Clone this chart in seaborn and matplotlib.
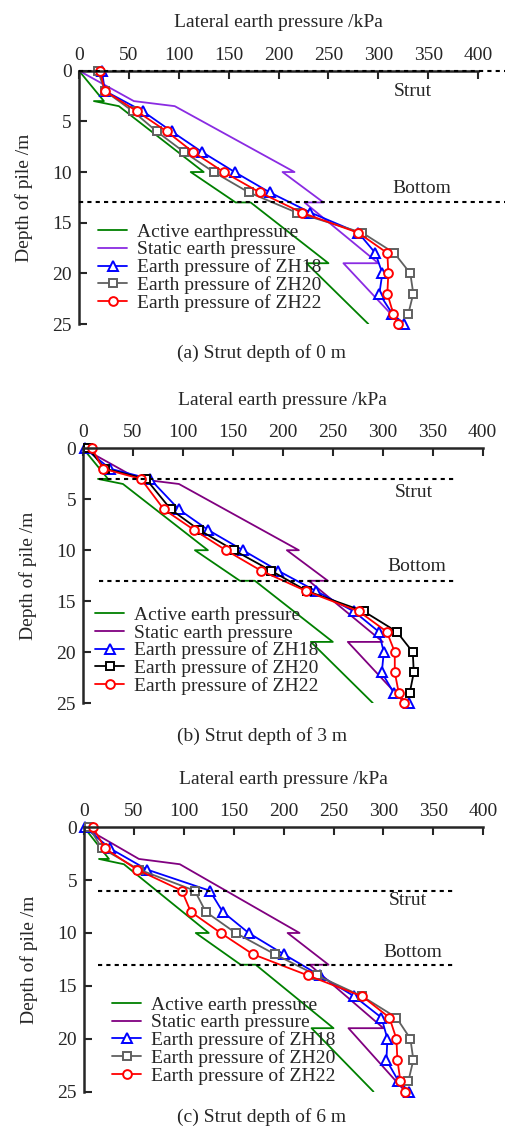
import matplotlib
matplotlib.use("Agg")
import matplotlib.pyplot as plt
import seaborn as sns

sns.set_style("ticks")
plt.rcParams['font.family'] = ['Liberation Serif', 'DejaVu Serif']

# theoretical curves (same for every case)
active_depth = [0, 3, 3, 3.5, 10, 10, 13, 13, 19, 19, 25]
active_p = [0, 25, 15, 40, 125, 112, 157, 172, 250, 228, 290]
static_depth = [0, 3, 3.5, 10, 10, 13, 13, 19, 19, 25]
static_p = [0, 55, 96, 216, 204, 245, 226, 300, 265, 322]

# measured, strut at 0 m
depth_a = [0, 2, 4, 6, 8, 10, 12, 14, 16, 18, 20, 22, 24, 25]
zh18_a = [23, 26, 64, 93, 123, 156, 191, 232, 280, 297, 304, 301, 314, 326]
zh20_a = [19, 26, 54, 78, 105, 135, 170, 218, 284, 316, 332, 335, 330]
zh22_a = [21, 26, 58, 88, 114, 145, 181, 223, 280, 309, 310, 309, 315, 320]

# measured, strut at 3 m
depth_b = [0, 2, 3, 6, 8, 10, 12, 14, 16, 18, 20, 22, 24, 25]
zh18_b = [2, 27, 67, 96, 125, 160, 195, 233, 271, 296, 301, 299, 311, 326]
zh20_b = [5, 22, 63, 88, 116, 151, 188, 224, 281, 314, 330, 331, 327]
zh22_b = [9, 20, 58, 81, 111, 143, 178, 223, 276, 304, 312, 312, 316, 321]

# measured, strut at 6 m
depth_c = [0, 2, 4, 6, 8, 10, 12, 14, 16, 18, 20, 22, 24, 25]
zh18_c = [1, 26, 63, 126, 139, 165, 200, 236, 271, 298, 304, 303, 315, 326]
zh20_c = [5, 18, 55, 111, 122, 152, 191, 233, 279, 313, 327, 330, 325]
zh22_c = [9, 21, 53, 98, 107, 137, 169, 224, 279, 306, 313, 314, 317, 322]

panels = [
    dict(rect=[0.156, 0.7135, 0.789, 0.224], depth=depth_a,
         zh18=zh18_a, zh20=zh20_a, zh22=zh22_a, strut=0,
         static_c='#8A2BE2', zh20_c='#606060', active_lab='Active earthpressure',
         dash_x=(0, 427), strut_xy=(315, 2.1), bottom_xy=(314, 11.6),
         leg=(0.048, 0.047), cap='(a) Strut depth of 0 m', cap_y=353),
    dict(rect=[0.164, 0.3784, 0.790, 0.2252], depth=depth_b,
         zh18=zh18_b, zh20=zh20_b, zh22=zh22_b, strut=3,
         static_c='#800080', zh20_c='black', active_lab='Active earth pressure',
         dash_x=(16, 372), strut_xy=(312, 4.3), bottom_xy=(305, 11.6),
         leg=(0.03, 0.031), cap='(b) Strut depth of 3 m', cap_y=736),
    dict(rect=[0.166, 0.0348, 0.789, 0.2338], depth=depth_c,
         zh18=zh18_c, zh20=zh20_c, zh22=zh22_c, strut=6,
         static_c='#800080', zh20_c='#606060', active_lab='Active earth pressure',
         dash_x=(14, 372), strut_xy=(305, 6.95), bottom_xy=(300, 11.8),
         leg=(0.07, 0.025), cap='(c) Strut depth of 6 m', cap_y=1117),
]

fig = plt.figure(figsize=(5.06, 11.31), dpi=100)
fs = 14

for p in panels:
    ax = fig.add_axes(p['rect'])
    sns.lineplot(x=active_p, y=active_depth, sort=False, estimator=None,
                 color='green', lw=1.3, label=p['active_lab'], ax=ax)
    sns.lineplot(x=static_p, y=static_depth, sort=False, estimator=None,
                 color=p['static_c'], lw=1.3, label='Static earth pressure', ax=ax)
    mk = dict(markerfacecolor='white', markeredgewidth=1.4, lw=1.3, clip_on=False)
    sns.lineplot(x=p['zh18'], y=p['depth'], sort=False, estimator=None, color='blue',
                 marker='^', markersize=6.5, markeredgecolor='blue',
                 label='Earth pressure of ZH18', ax=ax, **mk)
    sns.lineplot(x=p['zh20'], y=p['depth'][:len(p['zh20'])], sort=False, estimator=None,
                 color=p['zh20_c'], marker='s', markersize=5.2, markeredgecolor=p['zh20_c'],
                 label='Earth pressure of ZH20', ax=ax, **mk)
    sns.lineplot(x=p['zh22'], y=p['depth'], sort=False, estimator=None, color='red',
                 marker='o', markersize=6.3, markeredgecolor='red',
                 label='Earth pressure of ZH22', ax=ax, **mk)

    for d in (p['strut'], 13):
        ax.plot(p['dash_x'], [d, d], color='black', lw=1.5, ls=(0, (2, 2)),
                clip_on=False, zorder=5)
    ax.text(*p['strut_xy'], 'Strut', fontsize=fs, va='center', ha='left')
    ax.text(*p['bottom_xy'], 'Bottom', fontsize=fs, va='center', ha='left')

    ax.set_xlim(0, 400)
    ax.set_ylim(25, 0)
    ax.set_xticks(range(0, 401, 50))
    ax.set_yticks(range(0, 26, 5))
    ax.xaxis.tick_top()
    ax.xaxis.set_label_position('top')
    ax.set_xlabel('Lateral earth pressure /kPa', fontsize=fs, labelpad=14)
    ax.set_ylabel('Depth of pile /m', fontsize=fs, labelpad=14)
    ax.tick_params(direction='in', length=6, width=1.5, labelsize=fs, pad=5)
    for s in ('right', 'bottom'):
        ax.spines[s].set_visible(False)
    for s in ('top', 'left'):
        ax.spines[s].set_linewidth(1.8)

    ax.legend(loc='lower left', bbox_to_anchor=p['leg'], frameon=False,
              fontsize=fs, borderpad=0, borderaxespad=0, labelspacing=0,
              handlelength=1.5, handletextpad=0.5)
    fig.text(0.517, 1 - p['cap_y'] / 1131, p['cap'], fontsize=fs,
             ha='center', va='center')

fig.savefig('out.png', dpi=100)
